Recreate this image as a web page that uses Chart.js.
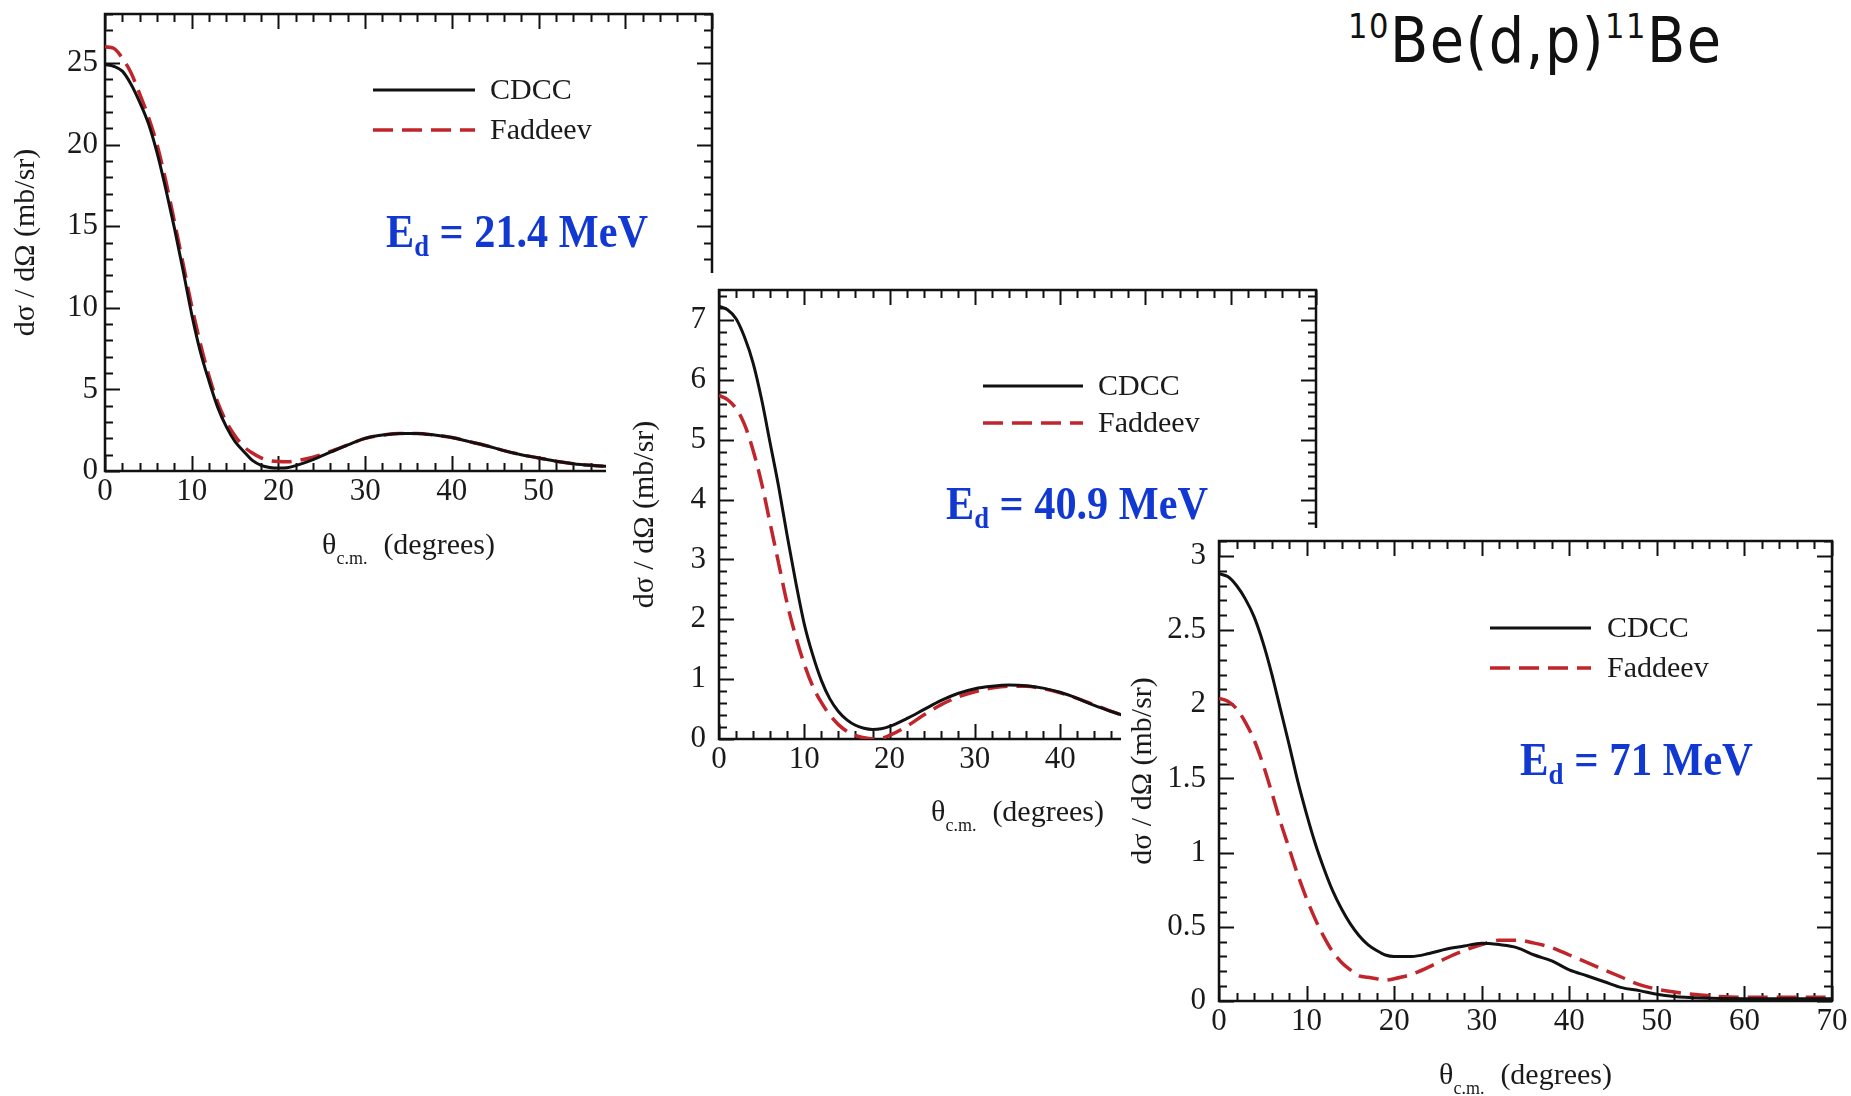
<!DOCTYPE html>
<html>
<head>
<meta charset="utf-8">
<script src="https://cdn.jsdelivr.net/npm/chart.js@4.4.1/dist/chart.umd.min.js"></script>
<style>
html,body{margin:0;padding:0;background:#fff;width:1851px;height:1096px;overflow:hidden;position:relative}
.box{position:absolute;background:#fff}
.box canvas{display:block}
#title{position:absolute;left:1348px;top:11px;font-family:"DejaVu Sans Condensed","DejaVu Sans",sans-serif;font-stretch:condensed;font-size:62px;line-height:60px;letter-spacing:1.5px;color:#111;white-space:nowrap;z-index:5}
#title .sup{font-size:34px;position:relative;top:-24px}
</style>
</head>
<body>
<div id="title"><span class="sup">10</span>Be(d,p)<span class="sup">11</span>Be</div>
<div class="box" style="left:0px;top:0px;width:740px;height:580px;z-index:1"><canvas id="c1" width="740" height="580"></canvas></div>
<div class="box" style="left:606px;top:273px;width:724px;height:567px;z-index:2"><canvas id="c2" width="724" height="567"></canvas></div>
<div class="box" style="left:1121px;top:528px;width:730px;height:568px;z-index:3"><canvas id="c3" width="730" height="568"></canvas></div>
<script>
// ---------------- data ----------------
const seriesNames = ['CDCC', 'Faddeev'];
const yAxisTitle = 'dσ / dΩ (mb/sr)';
const xTitleMain = 'θ';
const xTitleSub = 'c.m.';
const xTitleRest = '(degrees)';
const energies = ['21.4', '40.9', '71'];
const xTicks = [0, 10, 20, 30, 40, 50, 60, 70];
const yTicks1 = [0, 5, 10, 15, 20, 25];
const yTicks2 = [0, 1, 2, 3, 4, 5, 6, 7];
const yTicks3 = [0, 0.5, 1, 1.5, 2, 2.5, 3];

// E_d = 21.4 MeV
const angles1 = [0,1,2,3,4,5,6,7,8,9,10,11,12,13,14,15,16,17,18,19,20,21,22,
  24,26,28,30,32,34,36,38,40,42,44,46,48,50,52,54,56,58,60,65,70];
const cdcc1 = [24.9,24.8,24.5,23.7,22.6,21.3,19.5,17.3,14.9,12.3,9.6,7.3,5.5,3.9,2.7,1.8,1.2,0.65,0.35,0.22,0.18,0.2,0.33,
  0.7,1.15,1.6,2.0,2.2,2.3,2.3,2.2,2.05,1.8,1.55,1.25,1.0,0.8,0.6,0.45,0.35,0.28,0.22,0.15,0.1];
const faddeev1 = [26.0,25.9,25.3,24.4,23.1,21.7,20.0,17.8,15.3,12.7,10.1,7.8,5.8,4.2,3.0,2.15,1.5,1.1,0.8,0.64,0.58,0.57,0.62,
  0.85,1.2,1.6,2.0,2.2,2.3,2.3,2.2,2.05,1.8,1.55,1.25,1.0,0.8,0.6,0.45,0.35,0.28,0.22,0.15,0.1];

// E_d = 40.9 MeV
const angles2 = [0,1,2,3,4,5,6,7,8,9,10,11,12,13,14,15,16,17,18,19,20,
  22,24,26,28,30,32,34,36,38,40,42,44,46,48,50,55,60,65,70];
const cdcc2 = [7.23,7.17,7.02,6.71,6.28,5.67,4.94,4.21,3.39,2.62,1.92,1.40,0.98,0.67,0.46,0.32,0.23,0.18,0.16,0.17,0.21,
  0.34,0.49,0.64,0.76,0.84,0.88,0.90,0.89,0.85,0.78,0.68,0.56,0.46,0.37,0.30,0.18,0.12,0.10,0.10];
const faddeev2 = [5.74,5.67,5.52,5.25,4.82,4.27,3.60,2.93,2.26,1.71,1.25,0.88,0.61,0.40,0.24,0.13,0.06,0.02,0.0,0.01,0.06,
  0.21,0.40,0.57,0.70,0.79,0.85,0.88,0.88,0.84,0.77,0.68,0.57,0.46,0.37,0.30,0.18,0.12,0.10,0.10];

// E_d = 71 MeV
const angles3 = [0,1,2,3,4,5,6,7,8,9,10,11,12,13,14,15,16,17,18,19,20,
  22,24,26,28,30,32,34,36,38,40,42,44,46,48,50,52,55,60,65,70];
const cdcc3 = [2.88,2.86,2.80,2.71,2.59,2.42,2.21,1.97,1.73,1.48,1.26,1.06,0.89,0.74,0.62,0.52,0.44,0.38,0.34,0.31,0.30,
  0.30,0.32,0.35,0.37,0.39,0.38,0.36,0.31,0.27,0.21,0.17,0.13,0.09,0.07,0.045,0.03,0.02,0.015,0.015,0.015];
const faddeev3 = [2.04,2.02,1.97,1.88,1.76,1.60,1.41,1.21,1.03,0.85,0.69,0.55,0.43,0.33,0.26,0.21,0.17,0.16,0.15,0.14,0.15,
  0.18,0.23,0.29,0.34,0.38,0.41,0.41,0.39,0.36,0.31,0.26,0.21,0.16,0.11,0.08,0.06,0.04,0.025,0.025,0.025];

// ---------------- styling / drawing ----------------
Chart.defaults.font.family = '"Liberation Serif", "Times New Roman", serif';
Chart.defaults.color = '#1a1a1a';
const SERIF = '"Liberation Serif", "Times New Roman", serif';
const BLACK = '#111111';
const RED = '#c0252c';
const BLUE = '#1238d2';

const decorPlugin = {
  id: 'decor',
  beforeDatasetsDraw(chart, args, o) {
    const {ctx, chartArea: a, scales: {x, y}} = chart;
    ctx.save();
    ctx.strokeStyle = '#111';
    ctx.lineWidth = 2;
    const isMaj = (v, step) => Math.abs(v / step - Math.round(v / step)) < 1e-6;
    const nx = Math.round((x.max - x.min) / o.xMinor);
    for (let i = 0; i <= nx; i++) {
      const v = x.min + i * o.xMinor;
      const len = isMaj(v, o.xMajor) ? o.major : o.minor;
      const px = Math.round(x.getPixelForValue(v)) + 0.5;
      ctx.beginPath();
      ctx.moveTo(px, a.bottom); ctx.lineTo(px, a.bottom - len);
      ctx.moveTo(px, a.top); ctx.lineTo(px, a.top + len);
      ctx.stroke();
    }
    const ny = Math.floor((y.max - y.min) / o.yMinor + 1e-6);
    for (let i = 0; i <= ny; i++) {
      const v = y.min + i * o.yMinor;
      const len = isMaj(v, o.yMajor) ? o.major : o.minor;
      const py = Math.round(y.getPixelForValue(v)) + 0.5;
      ctx.beginPath();
      ctx.moveTo(a.left, py); ctx.lineTo(a.left + len, py);
      ctx.moveTo(a.right, py); ctx.lineTo(a.right - len, py);
      ctx.stroke();
    }
    ctx.lineWidth = 2.5;
    ctx.strokeRect(a.left, a.top, a.right - a.left, a.bottom - a.top);
    ctx.restore();
  },
  afterDraw(chart, args, o) {
    const {ctx, chartArea: a} = chart;
    ctx.save();
    // legend
    const ds = chart.data.datasets;
    ds.forEach((d, i) => {
      const ly = a.top + o.legY[i];
      ctx.strokeStyle = d.borderColor;
      ctx.lineWidth = d.borderWidth;
      ctx.setLineDash(d.borderDash || []);
      ctx.beginPath();
      ctx.moveTo(a.left + o.legX0, ly);
      ctx.lineTo(a.left + o.legX1, ly);
      ctx.stroke();
      ctx.setLineDash([]);
      ctx.fillStyle = '#1a1a1a';
      ctx.font = '30px ' + SERIF;
      ctx.textBaseline = 'middle';
      ctx.textAlign = 'left';
      ctx.fillText(d.label, a.left + o.legText, ly + 1);
    });
    // energy label  E_d = ... MeV
    ctx.fillStyle = BLUE;
    ctx.textBaseline = 'alphabetic';
    ctx.textAlign = 'left';
    const big = 'bold 46px ' + SERIF, small = 'bold 29px ' + SERIF;
    const rest = ' = ' + o.energy + ' MeV';
    ctx.font = big; const wE = ctx.measureText('E').width, wR = ctx.measureText(rest).width;
    ctx.font = small; const wd = ctx.measureText('d').width;
    const sx = o.enW / (wE + wd + wR);
    ctx.translate(a.left + o.enX, a.top + o.enY);
    ctx.scale(sx, 1);
    ctx.font = big; ctx.fillText('E', 0, 0);
    ctx.font = small; ctx.fillText('d', wE, 9);
    ctx.font = big; ctx.fillText(rest, wE + wd, 0);
    ctx.setTransform(1, 0, 0, 1, 0, 0);
    // x axis title
    ctx.fillStyle = '#1a1a1a';
    const fMain = '30px ' + SERIF, fSub = '18px ' + SERIF;
    ctx.font = fMain; const w1 = ctx.measureText(xTitleMain).width, w3 = ctx.measureText(xTitleRest).width;
    ctx.font = fSub; const w2 = ctx.measureText(xTitleSub).width;
    const gap = 16;
    const total = w1 + w2 + gap + w3;
    let tx = (a.left + a.right) / 2 - total / 2;
    const ty = a.bottom + o.xTitleY;
    ctx.textBaseline = 'alphabetic';
    ctx.font = fMain; ctx.fillText(xTitleMain, tx, ty);
    ctx.font = fSub; ctx.fillText(xTitleSub, tx + w1, ty + 10);
    ctx.font = fMain; ctx.fillText(xTitleRest, tx + w1 + w2 + gap, ty);
    ctx.restore();
  }
};

function makeChart(id, angles, cdcc, fad, yTicks, L) {
  const pts = (ys) => angles.map((a, i) => ({x: a, y: ys[i]}));
  return new Chart(document.getElementById(id), {
    type: 'line',
    data: {
      datasets: [
        {label: seriesNames[0], data: pts(cdcc), borderColor: BLACK, borderWidth: 3, pointRadius: 0,
         cubicInterpolationMode: 'monotone', fill: false},
        {label: seriesNames[1], data: pts(fad), borderColor: RED, borderWidth: 3.5, borderDash: [20, 9],
         pointRadius: 0, cubicInterpolationMode: 'monotone', fill: false}
      ]
    },
    options: {
      responsive: false,
      animation: false,
      events: [],
      layout: {padding: {left: 0, top: L.top, right: L.right, bottom: 0}},
      plugins: {
        legend: {display: false},
        tooltip: {enabled: false},
        decor: L.decor
      },
      scales: {
        x: {
          type: 'linear', min: 0, max: 70,
          grid: {display: false, drawTicks: false},
          border: {display: false},
          ticks: {font: {size: 31}, padding: 2, maxRotation: 0, autoSkip: false, callback: (v) => String(v)},
          afterBuildTicks: (s) => { s.ticks = xTicks.map(v => ({value: v})); },
          afterFit: (s) => { s.height = L.xH; s.paddingLeft = 0; s.paddingRight = 0; }
        },
        y: {
          type: 'linear', min: 0, max: L.ymax,
          grid: {display: false, drawTicks: false},
          border: {display: false},
          ticks: {font: {size: 31}, padding: L.yPad, autoSkip: false, callback: (v) => String(v)},
          afterBuildTicks: (s) => { s.ticks = yTicks.map(v => ({value: v})); },
          afterFit: (s) => { s.width = L.yW; s.paddingTop = 0; s.paddingBottom = 0; },
          title: {display: true, text: yAxisTitle, font: {size: 30}, padding: {top: L.yTitlePad, bottom: 0}}
        }
      }
    },
    plugins: [decorPlugin]
  });
}

makeChart('c1', angles1, cdcc1, faddeev1, yTicks1, {
  top: 14, right: 28, xH: 109, yW: 105, ymax: 28, yPad: 7, yTitlePad: 8,
  decor: {xMajor: 10, xMinor: 2, yMajor: 5, yMinor: 1, major: 15, minor: 8,
          legX0: 268, legX1: 370, legText: 385, legY: [76, 116],
          energy: energies[0], enX: 281, enY: 233, enW: 262, xTitleY: 83}
});
makeChart('c2', angles2, cdcc2, faddeev2, yTicks2, {
  top: 17, right: 14, xH: 101, yW: 113, ymax: 7.5, yPad: 13, yTitlePad: 21,
  decor: {xMajor: 10, xMinor: 2, yMajor: 1, yMinor: 0.2, major: 15, minor: 8,
          legX0: 264, legX1: 364, legText: 379, legY: [96, 133],
          energy: energies[1], enX: 227, enY: 229, enW: 262, xTitleY: 82}
});
makeChart('c3', angles3, cdcc3, faddeev3, yTicks3, {
  top: 13, right: 19, xH: 95, yW: 98, ymax: 3.1, yPad: 13, yTitlePad: 4,
  decor: {xMajor: 10, xMinor: 2, yMajor: 0.5, yMinor: 0.1, major: 15, minor: 8,
          legX0: 271, legX1: 372, legText: 388, legY: [87, 127],
          energy: energies[2], enX: 301, enY: 234, enW: 233, xTitleY: 83}
});
</script>
</body>
</html>
